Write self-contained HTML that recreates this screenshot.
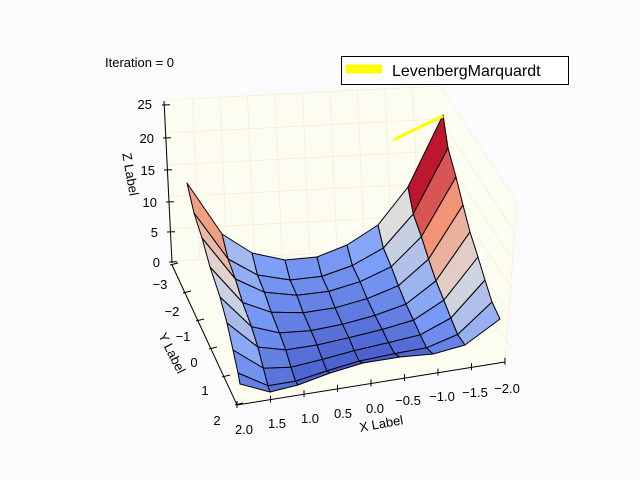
<!DOCTYPE html>
<html><head><meta charset="utf-8"><style>
html,body{margin:0;padding:0;background:#fbfbfe;}
svg{display:block;font-family:"Liberation Sans","DejaVu Sans",sans-serif;}
</style></head><body>
<svg id="s" width="640" height="480" viewBox="0 0 640 480" xmlns="http://www.w3.org/2000/svg">
<rect width="640" height="480" fill="#fbfbfe"/>
<polygon points="165,100 440,86 517,202 505,362 237,405 172,263" fill="#fcfcf1" stroke="#f0eec8" stroke-width="0.6"/>
<g id="grid" stroke="#eeecd0" stroke-width="0.6" fill="none"></g>
<g id="surf"></g>
<line x1="393" y1="140" x2="443" y2="116" stroke="#ffff00" stroke-width="3"/>
<g stroke="#000" stroke-width="1" fill="none" id="ax">
<polyline points="164,101 172,263"/>
<polyline points="172,265 237,405 505,362"/>
</g>
<g font-size="13" fill="#000">
<text x="152" y="109" text-anchor="end">25</text>
<text x="154" y="143" text-anchor="end">20</text>
<text x="155" y="175" text-anchor="end">15</text>
<text x="157" y="207" text-anchor="end">10</text>
<text x="158" y="237" text-anchor="end">5</text>
<text x="160" y="267" text-anchor="end">0</text>
<text x="160" y="289" text-anchor="middle">−3</text>
<text x="172" y="316" text-anchor="middle">−2</text>
<text x="183" y="341" text-anchor="middle">−1</text>
<text x="194" y="367" text-anchor="middle">0</text>
<text x="205" y="395" text-anchor="middle">1</text>
<text x="217" y="425" text-anchor="middle">2</text>
<text x="244" y="434" text-anchor="middle">2.0</text>
<text x="277" y="428" text-anchor="middle">1.5</text>
<text x="310" y="423" text-anchor="middle">1.0</text>
<text x="343" y="418" text-anchor="middle">0.5</text>
<text x="375" y="413" text-anchor="middle">0.0</text>
<text x="408" y="405" text-anchor="middle">−0.5</text>
<text x="442" y="401" text-anchor="middle">−1.0</text>
<text x="475" y="397" text-anchor="middle">−1.5</text>
<text x="507" y="393" text-anchor="middle">−2.0</text>
<text transform="translate(126,175) rotate(80)" text-anchor="middle">Z Label</text>
<text transform="translate(168,355) rotate(63)" text-anchor="middle">Y Label</text>
<text transform="translate(382,428) rotate(-10)" text-anchor="middle">X Label</text>
<text x="105" y="67">Iteration = 0</text>
</g>
<rect x="341.5" y="56.5" width="227" height="28" fill="#fff" stroke="#000" stroke-width="1"/>
<line x1="346" y1="69" x2="382" y2="69" stroke="#ffff00" stroke-width="9"/>
<text x="392" y="76" font-size="16">LevenbergMarquardt</text>
</svg>
<script>
var T=[[187,183],[222,234],[252,253],[285,260],[317,257],[347,245],[378,225],[408,187],[443,115]];
var B=[[240,384],[270,392],[298,385],[330,373],[363,363],[400,357],[433,354],[465,345],[500,319]];
var R=[[443,115],[448,148],[456,177],[463,205],[470,232],[478,257],[485,280],[492,302],[500,319]];
var L=[[187,183],[194,213],[202,238],[210,267],[220,297],[227,323],[233,350],[238,373],[240,384]];
function P(i,j){var u=i/8,v=j/8,r=[];for(var k=0;k<2;k++){r[k]=(1-v)*T[i][k]+v*B[i][k]+(1-u)*L[j][k]+u*R[j][k]-((1-u)*(1-v)*T[0][k]+u*(1-v)*T[8][k]+(1-u)*v*B[0][k]+u*v*B[8][k]);}return r;}
var cm=[[0,[59,76,192]],[0.25,[124,159,249]],[0.5,[221,221,221]],[0.75,[243,150,118]],[1,[180,4,38]]];
function col(t){t=Math.max(0,Math.min(1,t));for(var k=0;k<4;k++){if(t<=cm[k+1][0]){var a=cm[k],b=cm[k+1],f=(t-a[0])/(b[0]-a[0]);return'rgb('+[0,1,2].map(function(c){return Math.round(a[1][c]+f*(b[1][c]-a[1][c]))}).join(',')+')';}}}
var back=[0.72,0.35,0.25,0.22,0.23,0.28,0.5,0.97];
var front=[0.16,0.1,0.06,0.05,0.05,0.08,0.16,0.32];
var h='';
for(var j=0;j<8;j++)for(var i=0;i<8;i++){
var t=front[i]+(back[i]-front[i])*Math.pow(1-j/7,1.2);
var p=[P(i,j),P(i+1,j),P(i+1,j+1),P(i,j+1)];
h+='<polygon points="'+p.map(function(q){return q[0].toFixed(1)+','+q[1].toFixed(1)}).join(' ')+'" fill="'+col(t)+'" stroke="#000" stroke-width="1" stroke-linejoin="round"/>';}
document.getElementById('surf').innerHTML=h;
var g='';
for(var k=1;k<10;k++){var x=165+k*27.5,y=100-k*1.4;g+='<line x1="'+x+'" y1="'+y+'" x2="'+(x+7)+'" y2="'+(y+160)+'"/>';}
for(var k=1;k<6;k++){var y=101+k*32;g+='<line x1="'+(164+k*1.6)+'" y1="'+y+'" x2="440" y2="'+(y-14)+'"/><line x1="440" y1="'+(y-14)+'" x2="514" y2="'+(y+100-k*2)+'"/>';}
document.getElementById('grid').innerHTML=g;
var a='';
var zt=[[165,105],[166,138],[167,170],[169,202],[170,232],[172,262]];
zt.forEach(function(p){a+='<line x1="'+(p[0]-3)+'" y1="'+p[1]+'" x2="'+(p[0]+5)+'" y2="'+(p[1]-0.3)+'"/>';});
for(var k=0;k<6;k++){var x=172+k*13,y=265+k*28;a+='<line x1="'+(x-2)+'" y1="'+y+'" x2="'+(x+6)+'" y2="'+(y-2)+'"/>';}
for(var k=0;k<9;k++){var x=237+k*33.5,y=405-k*5.4;a+='<line x1="'+x+'" y1="'+(y+3)+'" x2="'+x+'" y2="'+(y-4)+'"/>';}
document.getElementById('ax').innerHTML+=a;
</script>
</body></html>
